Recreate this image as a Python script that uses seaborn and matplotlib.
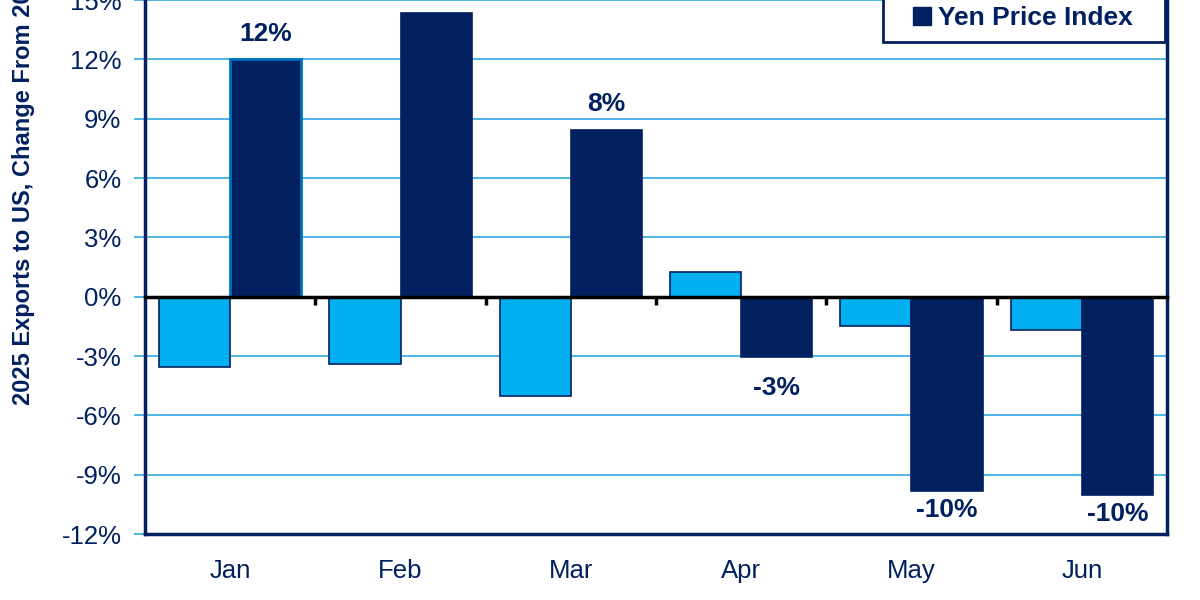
import matplotlib
matplotlib.use("Agg")
import matplotlib.pyplot as plt
import seaborn as sns
import pandas as pd
from matplotlib.lines import Line2D

months = ["Jan", "Feb", "Mar", "Apr", "May", "Jun"]
other_series = [-3.55, -3.4, -5.0, 1.27, -1.47, -1.68]
yen_price_index = [12.0, 14.35, 8.45, -3.05, -9.85, -10.05]
yen_labels_pos = ["12%", "", "8%", "", "", ""]
yen_labels_neg = ["", "", "", "-3%", "", ""]
yen_labels_near = ["", "", "", "", "-10%", "-10%"]
yticks = [-12, -9, -6, -3, 0, 3, 6, 9, 12, 15]

NAVY = "#002060"
LIGHT = "#00B0F0"
GRID = "#2DA9E1"

df = pd.DataFrame({
    "Month": months * 2,
    "Series": ["Other"] * 6 + ["Yen Price Index"] * 6,
    "Value": other_series + yen_price_index,
})

sns.set_theme(style="white")
plt.rcParams["font.family"] = ["Liberation Sans", "DejaVu Sans"]

fig = plt.figure(figsize=(12, 6), dpi=100)
ax = fig.add_axes([145 / 1200, 66 / 600, 1022 / 1200, 542.4 / 600])

sns.barplot(data=df, x="Month", y="Value", hue="Series",
            palette={"Other": LIGHT, "Yen Price Index": NAVY},
            width=0.835, dodge=True, saturation=1, legend=False,
            edgecolor=NAVY, linewidth=1.2, ax=ax, zorder=3)

ax.set_xlim(-0.5, 5.5)
ax.set_ylim(-12, 15.43)
ax.set_yticks(yticks)
ax.set_yticklabels([f"{t}%" for t in yticks], color=NAVY, fontsize=18.5)
ax.yaxis.grid(True, color=GRID, linewidth=1.2, zorder=0)
ax.set_axisbelow(True)
ax.tick_params(axis="y", length=8, width=1.2, color=GRID, pad=9, left=True)
ax.tick_params(axis="x", length=0, pad=18, labelsize=18.5, labelcolor=NAVY)
ax.set_xlabel("")
ax.set_ylabel("")

for side in ["left", "bottom", "right"]:
    ax.spines[side].set_color(NAVY)
    ax.spines[side].set_linewidth(2.5)
ax.spines["top"].set_visible(False)

# highlight edge on Jan yen bar
yen_container = ax.containers[1]
yen_container.patches[0].set_edgecolor("#0070C0")
yen_container.patches[0].set_linewidth(2.0)

lab_kw = dict(fontsize=19, fontweight="bold", color=NAVY)
ax.bar_label(yen_container, labels=yen_labels_pos, padding=10, **lab_kw)
ax.bar_label(yen_container, labels=yen_labels_neg, padding=14, **lab_kw)
ax.bar_label(yen_container, labels=yen_labels_near, padding=5, **lab_kw)

# zero axis line with category-boundary ticks
ax2 = ax.twiny()
ax2.set_xlim(ax.get_xlim())
ax2.spines["bottom"].set_position(("data", 0))
ax2.spines["bottom"].set_color("black")
ax2.spines["bottom"].set_linewidth(2.5)
for side in ["top", "left", "right"]:
    ax2.spines[side].set_visible(False)
ax2.xaxis.set_ticks_position("bottom")
ax2.set_xticks([0.5, 1.5, 2.5, 3.5, 4.5])
ax2.set_xticklabels([])
ax2.tick_params(axis="x", direction="out", length=6, width=2.5, color="black")
ax2.spines["bottom"].set_zorder(5)

# legend (upper entry lies beyond the top edge of the picture)
handles = [Line2D([], [], linestyle="none", marker=None),
           Line2D([], [], linestyle="none", marker="s", markersize=12.5,
                  markerfacecolor=NAVY, markeredgecolor=NAVY)]
leg = ax2.legend(handles, [" ", "Yen Price Index"], loc="lower left",
                 bbox_to_anchor=(738 / 1022, (534 - 42) / 542.4, 282 / 1022, 0.1),
                 mode="expand", borderaxespad=0, frameon=True, fancybox=False,
                 framealpha=1, edgecolor=NAVY, borderpad=0.45,
                 handlelength=2.05, handletextpad=-0.4,
                 prop={"weight": "bold", "size": 19})
leg.get_frame().set_linewidth(2)
for t in leg.get_texts():
    t.set_color(NAVY)
leg.set_zorder(10)

fig.text(24 / 1200, (600 - 405) / 600, "2025 Exports to US, Change From 2024",
         rotation=90, ha="center", va="bottom", fontsize=17,
         fontweight="bold", color=NAVY)

fig.savefig("out.png", dpi=100, facecolor="white")
